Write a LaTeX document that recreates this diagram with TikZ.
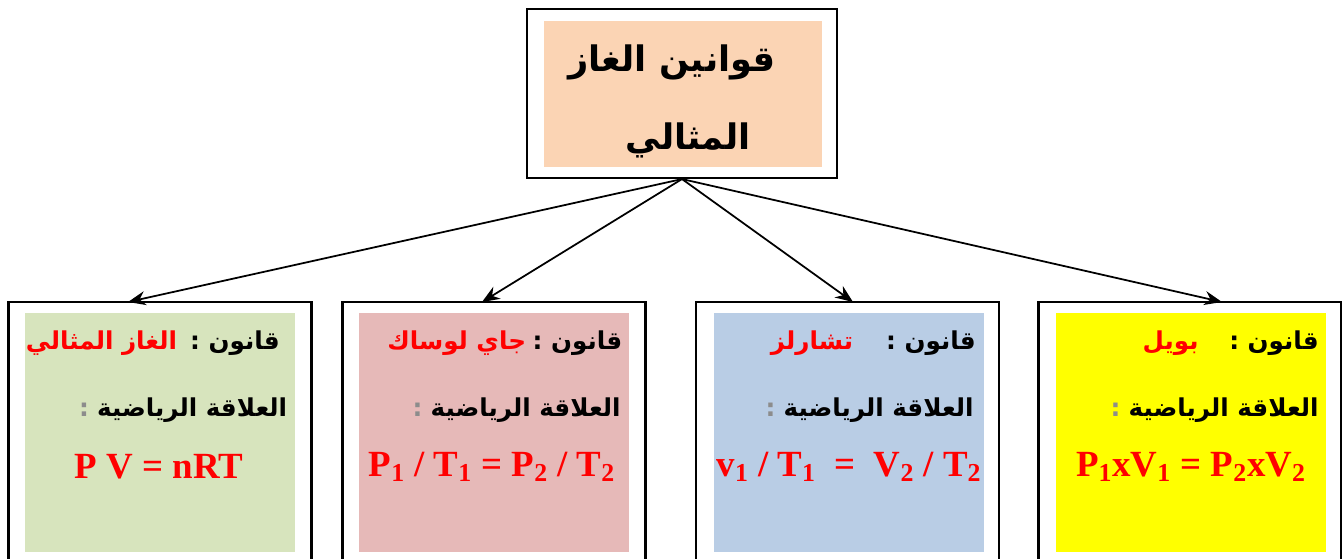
\documentclass[tikz,border=0pt]{standalone}
\usepackage{fontspec}
\setmainfont{Liberation Serif}
\newfontfamily\arabicfont[Script=Arabic]{DejaVu Sans}
\TeXXeTstate=1
\usepackage{xcolor}
\definecolor{titlepeach}{RGB}{251,212,180}
\definecolor{idealgreen}{RGB}{215,228,189}
\definecolor{gaypink}{RGB}{230,185,184}
\definecolor{charlesblue}{RGB}{185,205,229}
\definecolor{boyleyellow}{RGB}{255,255,0}
\definecolor{colongray}{RGB}{140,140,140}
\usetikzlibrary{arrows.meta,positioning,calc}

\begin{document}
\begin{tikzpicture}[
  outerbox/.style={rectangle, draw=black, line width=1.2pt, fill=white,
                   minimum width=6.06cm, minimum height=5.62cm},
  innerbox/.style={rectangle, fill=#1, minimum width=5.4cm, minimum height=4.78cm},
  ttl/.style={font=\arabicfont\bfseries\fontsize{20}{24}\selectfont},
  lawlbl/.style={font=\arabicfont\bfseries\fontsize{14}{16}\selectfont, inner sep=0pt, text=#1},
  lawlbl/.default=black,
  formula/.style={font=\bfseries\fontsize{21}{25}\selectfont, text=red},
  arr/.style={-{Stealth[length=10pt,width=8pt]}, line width=1pt, draw=black}
]
\useasboundingbox (0,0) rectangle (26.84,11.16);
\clip (0,0) rectangle (26.84,11.16);

% Title
\node[rectangle, draw=black, line width=1.2pt, fill=white,
      minimum width=6.2cm, minimum height=3.38cm] (top) at (13.64,9.29) {};
\node[rectangle, fill=titlepeach, minimum width=5.56cm, minimum height=2.92cm] (topin) at (13.66,9.28) {};
\node[ttl] (title1) at (13.44,9.92) {\beginR قوانين الغاز\endR};
\node[ttl] (title2) at (13.76,8.36) {\beginR المثالي\endR};

% Law 1: ideal gas
\node[outerbox] (ideal) at (3.2,2.31) {};
\node[innerbox=idealgreen] (idealin) at (3.2,2.51) {};
\node[lawlbl, anchor=east] (idealkey) at (5.6,4.30) {\beginR قانون :\endR};
\node[lawlbl=red, left=0.25cm of idealkey] (idealname) {\beginR الغاز المثالي\endR};
\node[lawlbl, anchor=east] (idealrel) at (5.75,2.96) {\beginR العلاقة الرياضية\endR};
\node[lawlbl=colongray, left=0.15cm of idealrel] (idealcolon) {:};
\node[formula] (idealf) at (3.18,1.82) {P V = nRT};

% Law 2: Gay-Lussac
\node[outerbox] (gay) at (9.88,2.31) {};
\node[innerbox=gaypink] (gayin) at (9.87,2.51) {};
\node[lawlbl, anchor=east] (gaykey) at (12.45,4.30) {\beginR قانون :\endR};
\node[lawlbl=red, left=0.12cm of gaykey] (gayname) {\beginR جاي لوساك\endR};
\node[lawlbl, anchor=east] (gayrel) at (12.42,2.96) {\beginR العلاقة الرياضية\endR};
\node[lawlbl=colongray, left=0.15cm of gayrel] (gaycolon) {:};
\node[formula] (gayf) at (9.84,1.82) {P\textsubscript{1} / T\textsubscript{1} = P\textsubscript{2} / T\textsubscript{2}};

% Law 3: Charles
\node[outerbox] (charles) at (16.95,2.31) {};
\node[innerbox=charlesblue] (charlesin) at (16.97,2.51) {};
\node[lawlbl, anchor=east] (charleskey) at (19.52,4.30) {\beginR قانون :\endR};
\node[lawlbl=red, left=0.65cm of charleskey] (charlesname) {\beginR تشارلز\endR};
\node[lawlbl, anchor=east] (charlesrel) at (19.48,2.96) {\beginR العلاقة الرياضية\endR};
\node[lawlbl=colongray, left=0.15cm of charlesrel] (charlescolon) {:};
\node[formula] (charlesf) at (16.98,1.82) {v\textsubscript{1} / T\textsubscript{1} \ =\ \ V\textsubscript{2} / T\textsubscript{2}};

% Law 4: Boyle
\node[outerbox] (boyle) at (23.8,2.31) {};
\node[innerbox=boyleyellow] (boylein) at (23.82,2.51) {};
\node[lawlbl, anchor=east] (boylekey) at (26.38,4.30) {\beginR قانون :\endR};
\node[lawlbl=red, left=0.6cm of boylekey] (boylename) {\beginR بويل\endR};
\node[lawlbl, anchor=east] (boylerel) at (26.38,2.96) {\beginR العلاقة الرياضية\endR};
\node[lawlbl=colongray, left=0.15cm of boylerel] (boylecolon) {:};
\node[formula] (boylef) at (23.82,1.82) {P\textsubscript{1}xV\textsubscript{1} = P\textsubscript{2}xV\textsubscript{2}};

% Arrows
\coordinate (in1) at (2.56,5.12);
\coordinate (in2) at (9.64,5.12);
\coordinate (in3) at (17.06,5.12);
\coordinate (in4) at (24.44,5.12);
\draw[arr] (top.south) -- (in1);
\draw[arr] (top.south) -- (in2);
\draw[arr] (top.south) -- (in3);
\draw[arr] (top.south) -- (in4);
\end{tikzpicture}
\end{document}
